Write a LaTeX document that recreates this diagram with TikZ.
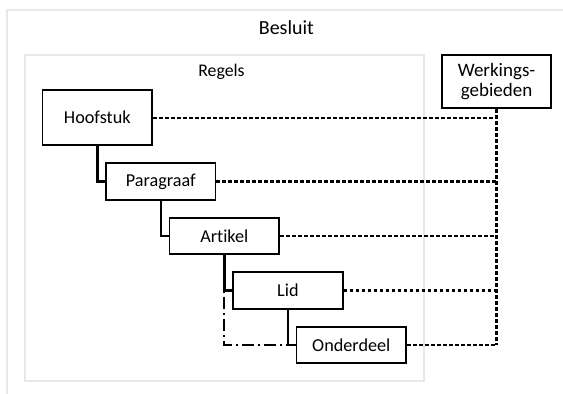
\documentclass[tikz,border=0pt]{standalone}
\usepackage{fontspec}
\setmainfont[Ligatures=NoCommon]{Carlito}
\begin{document}
\begin{tikzpicture}[x=1pt,y=-1pt,
  every node/.style={font=\fontsize{18.2}{22}\selectfont},
  frame/.style={draw=black!9,line width=2pt},
  part/.style={draw=black,line width=1.8pt,minimum width=109.5pt,minimum height=36.4pt,inner sep=0pt},
  tree/.style={line width=2.5pt},
  optional/.style={line width=2pt,dash pattern=on 2pt off 4pt on 12pt off 4pt},
  link/.style={line width=2.4pt,dash pattern=on 3.8pt off 2.2pt}]
\useasboundingbox (0,0) rectangle (563,394);
\fill[white] (0,0) rectangle (563,394);
% outer "Besluit" frame, running past the right and bottom edge
\draw[frame] (6.5,400) -- (6.5,9.5) -- (570,9.5);
\node[font=\fontsize{20}{24}\selectfont] (besluit) at (286.4,28) {Besluit};
% "Regels" frame
\draw[frame] (24.5,54.5) rectangle (423.5,381);
\node[font=\fontsize{17.8}{22}\selectfont] (regels) at (221.5,72) {Regels};
% boxes
\node[part,minimum height=54.7pt] (hoofdstuk) at (97.3,117.7) {Hoofstuk};
\node[part] (paragraaf) at (160.8,181.5) {Paragraaf};
\node[part] (artikel) at (224.3,236) {Artikel};
\node[part] (lid) at (287.9,290.5) {Lid};
\node[part] (onderdeel) at (351.3,344.8) {Onderdeel};
\node[part,minimum width=108.4pt,minimum height=53.6pt,align=center,
  font=\fontsize{19}{20}\selectfont] (werk) at (496.5,81.5) {Werkings-\\gebieden};
% hierarchy
\draw[tree] (hoofdstuk.south) |- (paragraaf.west);
\draw[tree] (paragraaf.south) |- (artikel.west);
\draw[tree] (artikel.south) |- (lid.west);
\draw[tree] (lid.south) |- (onderdeel.west);
\coordinate (skip) at (artikel.south |- lid.west);
\coordinate (join) at (lid.south |- onderdeel.west);
\draw[optional] (skip) |- (join);
% links to the working areas
\coordinate (bus) at (werk.south |- onderdeel.east);
\draw[link] (werk.south) -- (bus);
\foreach \n in {hoofdstuk,paragraaf,artikel,lid,onderdeel}
  \draw[link] (\n.east) -- (werk.south |- \n.east);
\end{tikzpicture}
\end{document}
